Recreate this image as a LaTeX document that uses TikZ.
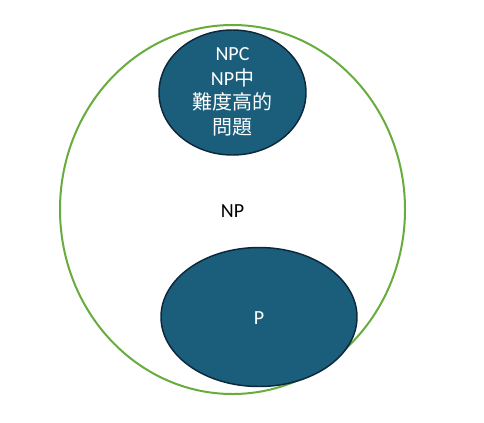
\documentclass[tikz,border=0pt]{standalone}
\usepackage{fontspec}
\usetikzlibrary{shapes.geometric}
\setmainfont{Carlito}
\newfontfamily\cjk{Noto Sans CJK TC}
\definecolor{npgreen}{RGB}{104,172,62}
\definecolor{setfill}{RGB}{26,94,124}
\definecolor{setline}{RGB}{12,40,58}
\begin{document}
\begin{tikzpicture}[x=0.75pt,y=-0.75pt,
  outerset/.style={ellipse, draw=npgreen, line width=1.5pt, inner sep=0pt},
  innerset/.style={ellipse, draw=setline, fill=setfill, line width=1.1pt, inner sep=0pt, text=white},
  lbl/.style={font=\fontsize{15}{18.5}\selectfont, align=center}]
\useasboundingbox[fill=white] (0,0) rectangle (484,422);
\node[outerset, minimum width=345*0.75pt, minimum height=369*0.75pt] (np) at (232.5,209.5) {};
\node[lbl] (nplabel) at (232.5,211) {NP};
\node[innerset, minimum width=147*0.75pt, minimum height=125*0.75pt] (npc) at (232.5,92.5) {};
\node[lbl, text=white] (npclabel) at (232.5,92) {NPC\\NP{\cjk\fontsize{15}{18.5}\selectfont 中}\\{\cjk\fontsize{15}{18.5}\selectfont 難度高的}\\{\cjk\fontsize{15}{18.5}\selectfont 問題}};
\node[innerset, minimum width=196*0.75pt, minimum height=139*0.75pt] (p) at (259,317) {};
\node[lbl, text=white] (plabel) at (259,318) {P};
\end{tikzpicture}
\end{document}
